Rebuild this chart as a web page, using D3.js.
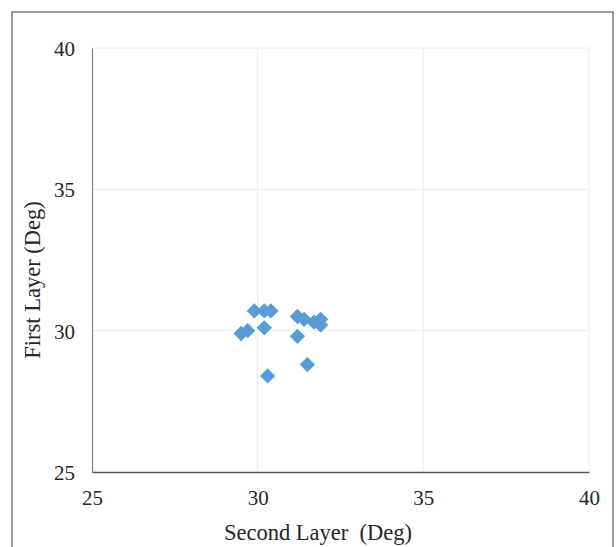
<!DOCTYPE html>
<html>
<head>
<meta charset="utf-8">
<script src="https://cdn.jsdelivr.net/npm/d3@7"></script>
<style>
  html, body { margin: 0; padding: 0; background: #fff; }
  svg { display: block; }
  text { font-family: "Liberation Serif", "Times New Roman", serif; fill: #262626; }
</style>
</head>
<body>
<svg id="chart" width="616" height="547"></svg>
<script>
// Layer angles for each sample (degrees)
const secondLayer = [29.9, 30.2, 30.4, 29.5, 29.7, 30.2, 30.3, 31.2, 31.4, 31.2, 31.7, 31.9, 31.9, 31.5];
const firstLayer  = [30.7, 30.7, 30.7, 29.9, 30.0, 30.1, 28.4, 30.5, 30.4, 29.8, 30.3, 30.4, 30.2, 28.8];
const xTicks = [25, 30, 35, 40];
const yTicks = [25, 30, 35, 40];
const xTitle = "Second Layer  (Deg)";
const yTitle = "First Layer (Deg)";

const svg = d3.select("#chart");
const plot = { left: 92, right: 589, top: 48, bottom: 472 };

const x = d3.scaleLinear().domain([25, 40]).range([plot.left, plot.right]);
const y = d3.scaleLinear().domain([25, 40]).range([plot.bottom, plot.top]);

// Chart frame
svg.append("rect")
  .attr("x", 12).attr("y", 12)
  .attr("width", 601).attr("height", 560)
  .attr("fill", "none").attr("stroke", "#3a3a3a").attr("stroke-width", 1);

// Gridlines
svg.append("g").selectAll("line").data(xTicks.slice(1)).join("line")
  .attr("x1", d => x(d)).attr("x2", d => x(d))
  .attr("y1", plot.top).attr("y2", plot.bottom)
  .attr("stroke", "#ececec").attr("stroke-width", 1);
svg.append("g").selectAll("line").data(yTicks.slice(1)).join("line")
  .attr("x1", plot.left).attr("x2", plot.right)
  .attr("y1", d => y(d)).attr("y2", d => y(d))
  .attr("stroke", "#ececec").attr("stroke-width", 1);

// Axes
const xAxis = d3.axisBottom(x).tickValues(xTicks).tickSize(0);
const gx = svg.append("g").attr("transform", `translate(0,${plot.bottom})`).call(xAxis);
gx.select(".domain").attr("stroke", "#595959").attr("stroke-width", 1.3);
gx.selectAll("text").attr("y", 33).attr("dy", 0)
  .style("font-size", "21px").attr("fill", "#262626");

const yAxis = d3.axisLeft(y).tickValues(yTicks).tickSize(0);
const gy = svg.append("g").attr("transform", `translate(${plot.left},0)`).call(yAxis);
gy.select(".domain").attr("stroke", "#8c8c8c").attr("stroke-width", 1.3);
gy.selectAll("text").attr("x", -17).attr("dy", "0.35em")
  .style("font-size", "21px").attr("fill", "#262626");

// Axis titles
svg.append("text")
  .attr("x", 318).attr("y", 540)
  .attr("text-anchor", "middle").style("font-size", "22.5px")
  .attr("xml:space", "preserve").style("white-space", "pre")
  .text(xTitle);
svg.append("text")
  .attr("transform", "translate(40,280) rotate(-90)")
  .attr("text-anchor", "middle").style("font-size", "22.5px")
  .text(yTitle);

// Diamond markers
const diamond = d3.symbol().type(d3.symbolDiamond2).size(150);
svg.append("g").selectAll("path").data(secondLayer.map((v, i) => [v, firstLayer[i]])).join("path")
  .attr("d", diamond)
  .attr("transform", d => `translate(${x(d[0])},${y(d[1])})`)
  .attr("fill", "#5B9BD5");
</script>
</body>
</html>
